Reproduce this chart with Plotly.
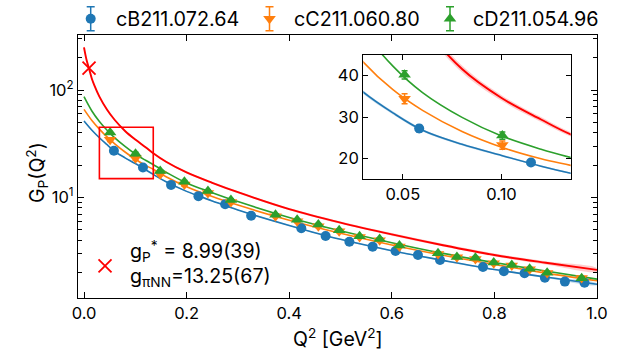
import plotly.graph_objects as go

# ---------------- data ----------------
ensembles = ["cB211.072.64", "cC211.060.80", "cD211.054.96"]
colors = ["#1f77b4", "#ff7f0e", "#2ca02c"]
red = "#ff0000"

# cB211.072.64 lattice points
q2_B = [0.0583, 0.1149, 0.1697, 0.2231, 0.2751, 0.3258, 0.4236, 0.4710, 0.5173,
        0.5627, 0.6073, 0.6510, 0.6940, 0.7777, 0.8185, 0.8588, 0.8984, 0.9374, 0.9757]
gp_B = [27.2, 19.0, 13.1, 10.3, 8.65, 6.77, 5.17, 4.39, 3.88,
        3.49, 3.18, 2.92, 2.62, 2.26, 2.06, 1.97, 1.79, 1.65, 1.61]
err_B = [0.8, 0.6, 0.4, 0.3, 0.25, 0.2, 0.15, 0.13, 0.11,
         0.1, 0.09, 0.08, 0.08, 0.07, 0.06, 0.06, 0.05, 0.05, 0.05]

# cC211.060.80 and cD211.054.96 share the same momenta
q2_CD = [0.0509, 0.1004, 0.1486, 0.1957, 0.2416, 0.2864, 0.3733, 0.4155, 0.4568, 0.4974,
         0.5372, 0.5763, 0.6149, 0.6901, 0.7269, 0.7630, 0.7987, 0.8339, 0.8687, 0.9028, 0.9701]
gp_C = [34.4, 23.2, 16.5, 13.2, 11.0, 9.1, 6.7, 6.0, 5.4, 4.85,
        4.3, 4.0, 3.5, 2.98, 2.78, 2.68, 2.45, 2.33, 2.15, 1.98, 1.78]
err_C = [1.2, 1.0, 0.6, 0.45, 0.35, 0.3, 0.2, 0.18, 0.16, 0.14,
         0.12, 0.11, 0.1, 0.09, 0.08, 0.08, 0.07, 0.07, 0.06, 0.06, 0.06]
gp_D = [40.2, 25.5, 17.6, 14.0, 11.5, 9.5, 6.9, 6.2, 5.6, 4.95,
        4.35, 4.12, 3.58, 3.03, 2.80, 2.75, 2.48, 2.35, 2.17, 2.0, 1.77]
err_D = [1.0, 0.9, 0.5, 0.4, 0.32, 0.26, 0.18, 0.16, 0.14, 0.12,
         0.11, 0.1, 0.09, 0.08, 0.07, 0.07, 0.06, 0.06, 0.06, 0.05, 0.05]

# fitted curves per ensemble
q2_fit = [0, 0.015, 0.03, 0.045, 0.06, 0.08, 0.1, 0.12, 0.135, 0.16,
          0.2, 0.25, 0.3, 0.4, 0.5, 0.6, 0.7, 0.8, 0.9, 1.0]
fit_B = [51.5, 42.5, 36.0, 31.0, 26.8, 23.4, 20.7, 18.1, 16.4, 14.0,
         11.4, 9.3, 7.65, 5.5, 4.08, 3.2, 2.6, 2.14, 1.82, 1.56]
band_B = [0.014, 0.013, 0.012, 0.012, 0.012, 0.012, 0.012, 0.012, 0.012, 0.012,
          0.012, 0.012, 0.012, 0.013, 0.014, 0.015, 0.016, 0.017, 0.018, 0.019]
fit_C = [66.1, 52.4, 43.3, 36.6, 31.6, 26.5, 22.7, 19.9, 18.3, 15.6,
         12.6, 10.2, 8.5, 6.15, 4.65, 3.62, 2.9, 2.38, 1.98, 1.68]
fit_D = [86.6, 64.2, 51.0, 42.3, 35.9, 29.9, 25.4, 22.2, 20.2, 17.2,
         13.65, 11.1, 9.16, 6.53, 4.9, 3.8, 3.02, 2.48, 2.07, 1.74]

# continuum curve with its uncertainty band
q2_cont = [0, 0.005, 0.01, 0.015, 0.02, 0.03, 0.045, 0.06, 0.08, 0.1, 0.12, 0.135,
           0.16, 0.2, 0.25, 0.3, 0.4, 0.5, 0.6, 0.7, 0.8, 0.9, 1.0]
fit_cont = [249, 190, 157, 128.7, 111, 86.8, 65.5, 52.6, 41.6, 34.6, 29.4, 25.8,
            21.5, 17.1, 13.7, 11.2, 7.8, 5.84, 4.54, 3.6, 2.92, 2.47, 2.12]
band_cont = [0.03, 0.028, 0.026, 0.024, 0.023, 0.022, 0.02, 0.02, 0.02, 0.02, 0.02, 0.02,
             0.02, 0.02, 0.021, 0.022, 0.024, 0.026, 0.028, 0.03, 0.032, 0.034, 0.036]

# induced pseudoscalar coupling at muon capture point
g_P_star = 8.99
m_mu = 0.10566
m_N = 0.9383
q2_star = 0.88 * m_mu ** 2
gp_star = g_P_star * 2 * m_N / m_mu

xticks = [0.0, 0.2, 0.4, 0.6, 0.8, 1.0]
yticks = [10, 100]
yticklabels = ["10<sup>1</sup>", "10<sup>2</sup>"]
yminor = [2, 3, 4, 5, 6, 7, 8, 9, 20, 30, 40, 50, 60, 70, 80, 90, 200, 300]
inset_xticks = [0.05, 0.10]
inset_xlabels = ["0.05", "0.10"]
inset_yticks = [20, 30, 40]

FONT = "Inter"
SYMBOLS = ["circle", "triangle-down", "triangle-up"]
SIZES = [10, 11, 11]

fig = go.Figure()


def add_curves(xa, ya):
    # continuum band and curve
    up = [v * (1 + r) for v, r in zip(fit_cont, band_cont)]
    lo = [v * (1 - r) for v, r in zip(fit_cont, band_cont)]
    fig.add_trace(go.Scatter(x=q2_cont + q2_cont[::-1], y=up + lo[::-1], fill="toself",
                             fillcolor="rgba(255,0,0,0.2)", line=dict(width=0),
                             mode="lines", line_shape="spline", hoverinfo="skip",
                             xaxis=xa, yaxis=ya))
    upb = [v * (1 + r) for v, r in zip(fit_B, band_B)]
    lob = [v * (1 - r) for v, r in zip(fit_B, band_B)]
    fig.add_trace(go.Scatter(x=q2_fit + q2_fit[::-1], y=upb + lob[::-1], fill="toself",
                             fillcolor="rgba(31,119,180,0.25)", line=dict(width=0),
                             mode="lines", line_shape="spline", hoverinfo="skip",
                             xaxis=xa, yaxis=ya))
    for fit, c in zip([fit_B, fit_C, fit_D], colors):
        fig.add_trace(go.Scatter(x=q2_fit, y=fit, mode="lines", line=dict(color=c, width=1.6),
                                 line_shape="spline", xaxis=xa, yaxis=ya))
    fig.add_trace(go.Scatter(x=q2_cont, y=fit_cont, mode="lines", line=dict(color=red, width=1.9),
                             line_shape="spline", xaxis=xa, yaxis=ya))


def add_points(xa, ya):
    sets = [(q2_B, gp_B, err_B), (q2_CD, gp_C, err_C), (q2_CD, gp_D, err_D)]
    for (x, y, e), sym, sz, c in zip(sets, SYMBOLS, SIZES, colors):
        fig.add_trace(go.Scatter(x=x, y=y, mode="markers",
                                 marker=dict(symbol=sym, size=sz, color=c, line=dict(width=0)),
                                 error_y=dict(type="data", array=e, color=c, thickness=1.5, width=3),
                                 xaxis=xa, yaxis=ya))


# main panel
add_curves("x", "y")
add_points("x", "y")
fig.add_trace(go.Scatter(x=[q2_star], y=[gp_star], mode="markers",
                         marker=dict(symbol="x-thin", size=13, line=dict(color=red, width=1.8)),
                         xaxis="x", yaxis="y"))
# marker beside the coupling values
fig.add_trace(go.Scatter(x=[0.041], y=[2.31], mode="markers",
                         marker=dict(symbol="x-thin", size=13, line=dict(color=red, width=1.8)),
                         xaxis="x", yaxis="y"))

# inset panel
add_curves("x2", "y2")
add_points("x2", "y2")

# legend glyphs
leg_x = [90.7, 269.5, 450.0]
leg_text_x = [114, 292, 471]
for sym, sz, c, name, gx, tx in zip(SYMBOLS, SIZES, colors, ensembles, leg_x, leg_text_x):
    fig.add_trace(go.Scatter(x=[gx], y=[18.7], mode="markers",
                             marker=dict(symbol=sym, size=sz, color=c, line=dict(width=0)),
                             error_y=dict(type="data", array=[12], color=c, thickness=1.5, width=4),
                             xaxis="x3", yaxis="y3", cliponaxis=False))
    fig.add_annotation(x=tx, y=19, xref="x3", yref="y3", text=name, showarrow=False,
                       xanchor="left", yanchor="middle", font=dict(size=19.8, family=FONT))

axis_common = dict(showline=True, linecolor="black", linewidth=1.3, mirror="allticks",
                   ticks="inside", tickcolor="black", tickwidth=1.2, showgrid=False,
                   zeroline=False, automargin=False, tickfont=dict(size=16.5, family=FONT))

fig.update_layout(
    width=628, height=354,
    margin=dict(l=78, r=31, t=0, b=56),
    paper_bgcolor="white", plot_bgcolor="white",
    showlegend=False,
    font=dict(family=FONT, color="black", size=16),
    xaxis=dict(domain=[0, 1], anchor="y", range=[-0.0117, 1.0], tickvals=xticks,
               tickformat=".1f", ticklen=6, **axis_common),
    yaxis=dict(domain=[0, 0.8826], anchor="x", type="log", range=[0.065, 2.512],
               tickvals=yticks, ticktext=yticklabels, ticklen=6,
               minor=dict(ticks="inside", ticklen=3.5, tickwidth=1, tickcolor="black",
                          tickvals=yminor, showgrid=False),
               **axis_common),
    xaxis2=dict(domain=[0.5497, 0.9493], anchor="y2", range=[0.03, 0.135],
                tickvals=inset_xticks, ticktext=inset_xlabels, ticklen=5, **axis_common),
    yaxis2=dict(domain=[0.3993, 0.8154], anchor="x2", range=[15, 45],
                tickvals=inset_yticks, ticklen=5, **axis_common),
    xaxis3=dict(domain=[0, 1], anchor="y3", range=[78, 597], visible=False),
    yaxis3=dict(domain=[0.8893, 1], anchor="x3", range=[33, 0], visible=False),
)

# zoom window marking the inset region
fig.add_shape(type="rect", xref="x", yref="y", x0=0.03, x1=0.135, y0=15, y1=45,
              line=dict(color=red, width=1.6), fillcolor="rgba(0,0,0,0)")

# axis titles
fig.add_annotation(x=-0.079, y=0.4228, xref="paper", yref="paper", textangle=-90,
                   text="G<sub>P</sub>(Q<sup>2</sup>)", showarrow=False,
                   font=dict(size=19.5, family=FONT), xanchor="center", yanchor="middle")
fig.add_annotation(x=0.5, y=-0.134, xref="paper", yref="paper",
                   text="Q<sup>2</sup> [GeV<sup>2</sup>]", showarrow=False,
                   font=dict(size=19.5, family=FONT), xanchor="center", yanchor="middle")

# coupling values
fig.add_annotation(x=(128 - 78) / 519, y=(298 - 251) / 298, xref="paper", yref="paper",
                   text="g<sub>P</sub><sup>*</sup> = 8.99(39)", showarrow=False,
                   font=dict(size=19.6, family=FONT), xanchor="left", yanchor="middle")
fig.add_annotation(x=(128 - 78) / 519, y=(298 - 277) / 298, xref="paper", yref="paper",
                   text="g<sub>πNN</sub>=13.25(67)", showarrow=False,
                   font=dict(size=19.6, family=FONT), xanchor="left", yanchor="middle")

fig.write_html("out.html")
